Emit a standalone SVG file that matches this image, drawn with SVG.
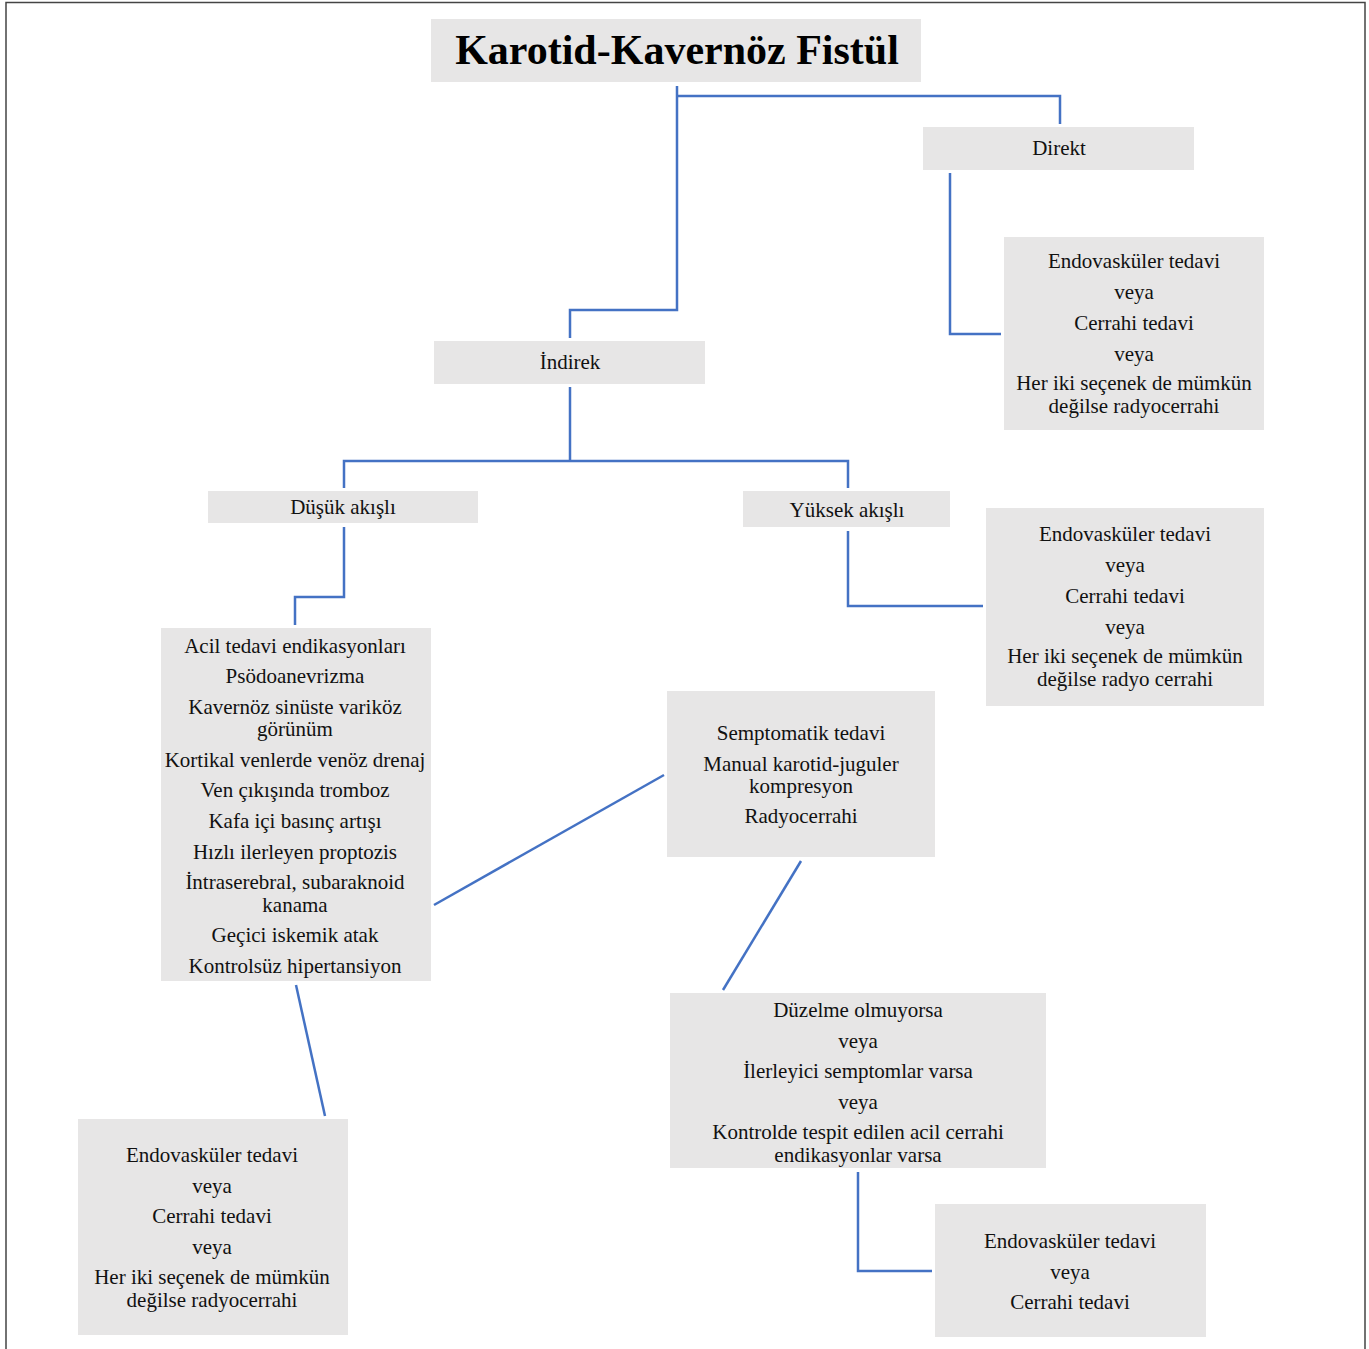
<svg xmlns="http://www.w3.org/2000/svg" width="1369" height="1349" viewBox="0 0 1369 1349">
<style>
.box{fill:#e7e6e6}
.t{font-family:"Liberation Serif","Times New Roman",serif;font-size:21px;fill:#111;text-anchor:middle}
.title{font-family:"Liberation Serif","Times New Roman",serif;font-size:42px;font-weight:bold;fill:#000;text-anchor:middle}
.c{fill:none;stroke:#4472c4;stroke-width:2.5}
</style>
<rect width="1369" height="1349" fill="#fff"/>
<path d="M6,1349 V2.5 H1365 V1349" fill="none" stroke="#444" stroke-width="1.5"/>
<g id="connectors">
<path class="c" d="M677,86 V310 H570 V338"/>
<path class="c" d="M677,96 H1060 V124"/>
<path class="c" d="M950,173 V334 H1001"/>
<path class="c" d="M570,387 V461"/>
<path class="c" d="M344,488 V461 H848 V488"/>
<path class="c" d="M344,527 V597 H295 V625"/>
<path class="c" d="M848,531 V606 H983"/>
<path class="c" d="M434,905 L664,775"/>
<path class="c" d="M801,861 L723,990"/>
<path class="c" d="M296,985 L325,1116"/>
<path class="c" d="M858,1172 V1271 H932"/>
</g>
<g id="title">
<rect class="box" x="431" y="19" width="490" height="63"/>
<text class="title" x="677" y="64">Karotid-Kavernöz Fistül</text>
</g>
<g id="direkt">
<rect class="box" x="923" y="127" width="271" height="43"/>
<text class="t" x="1059" y="155">Direkt</text>
</g>
<g id="direkt-tedavi">
<rect class="box" x="1004" y="237" width="260" height="193"/>
<text class="t" x="1134" y="268">Endovasküler tedavi</text>
<text class="t" x="1134" y="299">veya</text>
<text class="t" x="1134" y="330">Cerrahi tedavi</text>
<text class="t" x="1134" y="361">veya</text>
<text class="t" x="1134" y="390">Her iki seçenek de mümkün</text>
<text class="t" x="1134" y="413">değilse radyocerrahi</text>
</g>
<g id="indirek">
<rect class="box" x="434" y="341" width="271" height="43"/>
<text class="t" x="570" y="369">İndirek</text>
</g>
<g id="dusuk">
<rect class="box" x="208" y="491" width="270" height="32"/>
<text class="t" x="343" y="514">Düşük akışlı</text>
</g>
<g id="yuksek">
<rect class="box" x="743" y="491" width="207" height="36"/>
<text class="t" x="847" y="517">Yüksek akışlı</text>
</g>
<g id="yuksek-tedavi">
<rect class="box" x="986" y="508" width="278" height="198"/>
<text class="t" x="1125" y="541">Endovasküler tedavi</text>
<text class="t" x="1125" y="572">veya</text>
<text class="t" x="1125" y="603">Cerrahi tedavi</text>
<text class="t" x="1125" y="634">veya</text>
<text class="t" x="1125" y="663">Her iki seçenek de mümkün</text>
<text class="t" x="1125" y="686">değilse radyo cerrahi</text>
</g>
<g id="acil">
<rect class="box" x="161" y="628" width="270" height="353"/>
<text class="t" x="295" y="653">Acil tedavi endikasyonları</text>
<text class="t" x="295" y="683">Psödoanevrizma</text>
<text class="t" x="295" y="714">Kavernöz sinüste variköz</text>
<text class="t" x="295" y="736">görünüm</text>
<text class="t" x="295" y="767">Kortikal venlerde venöz drenaj</text>
<text class="t" x="295" y="797">Ven çıkışında tromboz</text>
<text class="t" x="295" y="828">Kafa içi basınç artışı</text>
<text class="t" x="295" y="859">Hızlı ilerleyen proptozis</text>
<text class="t" x="295" y="889">İntraserebral, subaraknoid</text>
<text class="t" x="295" y="912">kanama</text>
<text class="t" x="295" y="942">Geçici iskemik atak</text>
<text class="t" x="295" y="973">Kontrolsüz hipertansiyon</text>
</g>
<g id="semptomatik">
<rect class="box" x="667" y="691" width="268" height="166"/>
<text class="t" x="801" y="740">Semptomatik tedavi</text>
<text class="t" x="801" y="771">Manual karotid-juguler</text>
<text class="t" x="801" y="793">kompresyon</text>
<text class="t" x="801" y="823">Radyocerrahi</text>
</g>
<g id="duzelme">
<rect class="box" x="670" y="993" width="376" height="175"/>
<text class="t" x="858" y="1017">Düzelme olmuyorsa</text>
<text class="t" x="858" y="1048">veya</text>
<text class="t" x="858" y="1078">İlerleyici semptomlar varsa</text>
<text class="t" x="858" y="1109">veya</text>
<text class="t" x="858" y="1139">Kontrolde tespit edilen acil cerrahi</text>
<text class="t" x="858" y="1162">endikasyonlar varsa</text>
</g>
<g id="dusuk-tedavi">
<rect class="box" x="78" y="1119" width="270" height="216"/>
<text class="t" x="212" y="1162">Endovasküler tedavi</text>
<text class="t" x="212" y="1193">veya</text>
<text class="t" x="212" y="1223">Cerrahi tedavi</text>
<text class="t" x="212" y="1254">veya</text>
<text class="t" x="212" y="1284">Her iki seçenek de mümkün</text>
<text class="t" x="212" y="1307">değilse radyocerrahi</text>
</g>
<g id="duzelme-tedavi">
<rect class="box" x="935" y="1204" width="271" height="133"/>
<text class="t" x="1070" y="1248">Endovasküler tedavi</text>
<text class="t" x="1070" y="1279">veya</text>
<text class="t" x="1070" y="1309">Cerrahi tedavi</text>
</g>
</svg>
